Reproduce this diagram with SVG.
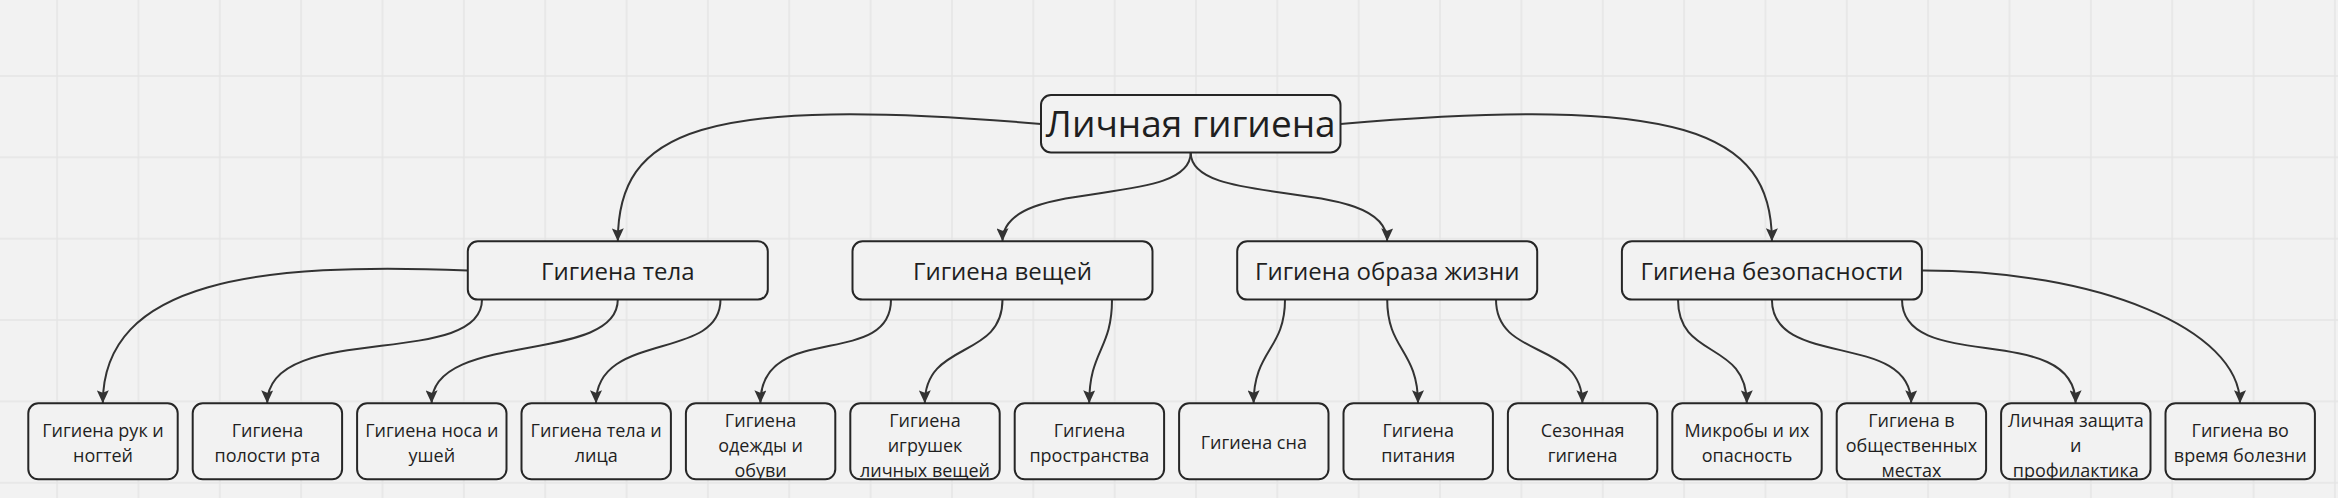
<svg xmlns="http://www.w3.org/2000/svg" width="2338" height="498" viewBox="0 0 2338 498">
<style>
.box{fill:#f2f2f2;stroke:#262626;stroke-width:2}
.t{font-family:"Open Sans","Noto Sans","Liberation Sans",sans-serif;fill:#1f1f1f;text-anchor:middle}
.root{font-size:37px}
.mid{font-size:24px}
.leaf{font-size:18px}
.c{fill:none;stroke:#333;stroke-width:2;marker-end:url(#arr)}
</style>
<defs>
<pattern id="grid" x="16.425" y="35.325" width="81.35" height="81.35" patternUnits="userSpaceOnUse">
<path d="M40.675,0 V81.35 M0,40.675 H81.35" stroke="#e5e5e5" stroke-width="1.5" fill="none"/>
</pattern>
<marker id="arr" viewBox="0 0 13 12" refX="13" refY="6" markerWidth="13" markerHeight="12" markerUnits="userSpaceOnUse" orient="auto">
<path d="M0,0 L13,6 L0,12 L2.5,6 z" fill="#333"/>
</marker>
<clipPath id="cl4"><rect x="685.9" y="403.3" width="149.4" height="76" rx="10"/></clipPath>
<clipPath id="cl5"><rect x="850.3" y="403.3" width="149.4" height="76" rx="10"/></clipPath>
<clipPath id="cl11"><rect x="1836.7" y="403.3" width="149.4" height="76" rx="10"/></clipPath>
<clipPath id="cl12"><rect x="2001.1" y="403.3" width="149.4" height="76" rx="10"/></clipPath>
</defs>
<rect width="2338" height="498" fill="#f2f2f2"/>
<rect width="2338" height="498" fill="url(#grid)"/>

<g id="connectors">
<path class="c" d="M1041,124 C700,95 617.8,130 617.8,241.3"/>
<path class="c" d="M1190.7,152.5 C1190.7,210 1002.5,175 1002.5,241.3"/>
<path class="c" d="M1190.7,152.5 C1190.7,210 1387.2,175 1387.2,241.3"/>
<path class="c" d="M1340.5,124 C1680,95 1771.9,130 1771.9,241.3"/>
<path class="c" d="M467.8,270.5 C260,262 102.8,280 102.8,403.3"/>
<path class="c" d="M482,299.6 C482,370 267.2,320 267.2,403.3"/>
<path class="c" d="M617.8,299.6 C617.8,365 431.6,330 431.6,403.3"/>
<path class="c" d="M720.5,299.6 C720.5,362 596,330 596,403.3"/>
<path class="c" d="M891,299.6 C891,370 760.4,320 760.4,403.3"/>
<path class="c" d="M1002.5,299.6 C1002.5,360 924.8,340 924.8,403.3"/>
<path class="c" d="M1112,299.6 C1112,350 1089.2,350 1089.2,403.3"/>
<path class="c" d="M1285,299.6 C1285,350 1253.6,350 1253.6,403.3"/>
<path class="c" d="M1387.2,299.6 C1387.2,350 1418,350 1418,403.3"/>
<path class="c" d="M1496,299.6 C1496,360 1582.4,340 1582.4,403.3"/>
<path class="c" d="M1678,299.6 C1678,360 1746.8,340 1746.8,403.3"/>
<path class="c" d="M1771.9,299.6 C1771.9,370 1911.2,330 1911.2,403.3"/>
<path class="c" d="M1902,299.6 C1902,375 2075.6,320 2075.6,403.3"/>
<path class="c" d="M1921.9,270.5 C2097,270 2240,329 2240,403.3"/>
</g>

<g id="root">
<rect class="box" x="1041" y="95" width="299.5" height="57.5" rx="10"/>
<text class="t root" x="1190.75" y="137.3">Личная гигиена</text>
</g>

<g id="mid-body">
<rect class="box" x="467.8" y="241.3" width="300" height="58.3" rx="10"/>
<text class="t mid" x="617.8" y="280">Гигиена тела</text>
</g>
<g id="mid-things">
<rect class="box" x="852.5" y="241.3" width="300" height="58.3" rx="10"/>
<text class="t mid" x="1002.5" y="280">Гигиена вещей</text>
</g>
<g id="mid-lifestyle">
<rect class="box" x="1237.2" y="241.3" width="300" height="58.3" rx="10"/>
<text class="t mid" x="1387.2" y="280">Гигиена образа жизни</text>
</g>
<g id="mid-safety">
<rect class="box" x="1621.9" y="241.3" width="300" height="58.3" rx="10"/>
<text class="t mid" x="1771.9" y="280">Гигиена безопасности</text>
</g>

<g id="leaf-hands">
<rect class="box" x="28.3" y="403.3" width="149.4" height="76" rx="10"/>
<text class="t leaf" x="103" y="436.7">Гигиена рук и</text>
<text class="t leaf" x="103" y="461.7">ногтей</text>
</g>
<g id="leaf-mouth">
<rect class="box" x="192.7" y="403.3" width="149.4" height="76" rx="10"/>
<text class="t leaf" x="267.4" y="436.7">Гигиена</text>
<text class="t leaf" x="267.4" y="461.7">полости рта</text>
</g>
<g id="leaf-nose">
<rect class="box" x="357.1" y="403.3" width="149.4" height="76" rx="10"/>
<text class="t leaf" x="431.8" y="436.7">Гигиена носа и</text>
<text class="t leaf" x="431.8" y="461.7">ушей</text>
</g>
<g id="leaf-face">
<rect class="box" x="521.5" y="403.3" width="149.4" height="76" rx="10"/>
<text class="t leaf" x="596.2" y="436.7">Гигиена тела и</text>
<text class="t leaf" x="596.2" y="461.7">лица</text>
</g>
<g id="leaf-clothes">
<rect class="box" x="685.9" y="403.3" width="149.4" height="76" rx="10"/>
<g clip-path="url(#cl4)">
<text class="t leaf" x="760.6" y="426.7">Гигиена</text>
<text class="t leaf" x="760.6" y="451.7">одежды и</text>
<text class="t leaf" x="760.6" y="476.7">обуви</text>
</g>
</g>
<g id="leaf-toys">
<rect class="box" x="850.3" y="403.3" width="149.4" height="76" rx="10"/>
<g clip-path="url(#cl5)">
<text class="t leaf" x="925" y="426.7">Гигиена</text>
<text class="t leaf" x="925" y="451.7">игрушек</text>
<text class="t leaf" x="925" y="476.7">личных вещей</text>
</g>
</g>
<g id="leaf-space">
<rect class="box" x="1014.7" y="403.3" width="149.4" height="76" rx="10"/>
<text class="t leaf" x="1089.4" y="436.7">Гигиена</text>
<text class="t leaf" x="1089.4" y="461.7">пространства</text>
</g>
<g id="leaf-sleep">
<rect class="box" x="1179.1" y="403.3" width="149.4" height="76" rx="10"/>
<text class="t leaf" x="1253.8" y="449.2">Гигиена сна</text>
</g>
<g id="leaf-food">
<rect class="box" x="1343.5" y="403.3" width="149.4" height="76" rx="10"/>
<text class="t leaf" x="1418.2" y="436.7">Гигиена</text>
<text class="t leaf" x="1418.2" y="461.7">питания</text>
</g>
<g id="leaf-season">
<rect class="box" x="1507.9" y="403.3" width="149.4" height="76" rx="10"/>
<text class="t leaf" x="1582.6" y="436.7">Сезонная</text>
<text class="t leaf" x="1582.6" y="461.7">гигиена</text>
</g>
<g id="leaf-microbes">
<rect class="box" x="1672.3" y="403.3" width="149.4" height="76" rx="10"/>
<text class="t leaf" x="1747" y="436.7">Микробы и их</text>
<text class="t leaf" x="1747" y="461.7">опасность</text>
</g>
<g id="leaf-public">
<rect class="box" x="1836.7" y="403.3" width="149.4" height="76" rx="10"/>
<g clip-path="url(#cl11)">
<text class="t leaf" x="1911.4" y="426.7">Гигиена в</text>
<text class="t leaf" x="1911.4" y="451.7">общественных</text>
<text class="t leaf" x="1911.4" y="476.7">местах</text>
</g>
</g>
<g id="leaf-protection">
<rect class="box" x="2001.1" y="403.3" width="149.4" height="76" rx="10"/>
<g clip-path="url(#cl12)">
<text class="t leaf" x="2075.8" y="426.7">Личная защита</text>
<text class="t leaf" x="2075.8" y="451.7">и</text>
<text class="t leaf" x="2075.8" y="476.7">профилактика</text>
</g>
</g>
<g id="leaf-illness">
<rect class="box" x="2165.5" y="403.3" width="149.4" height="76" rx="10"/>
<text class="t leaf" x="2240.2" y="436.7">Гигиена во</text>
<text class="t leaf" x="2240.2" y="461.7">время болезни</text>
</g>
</svg>
